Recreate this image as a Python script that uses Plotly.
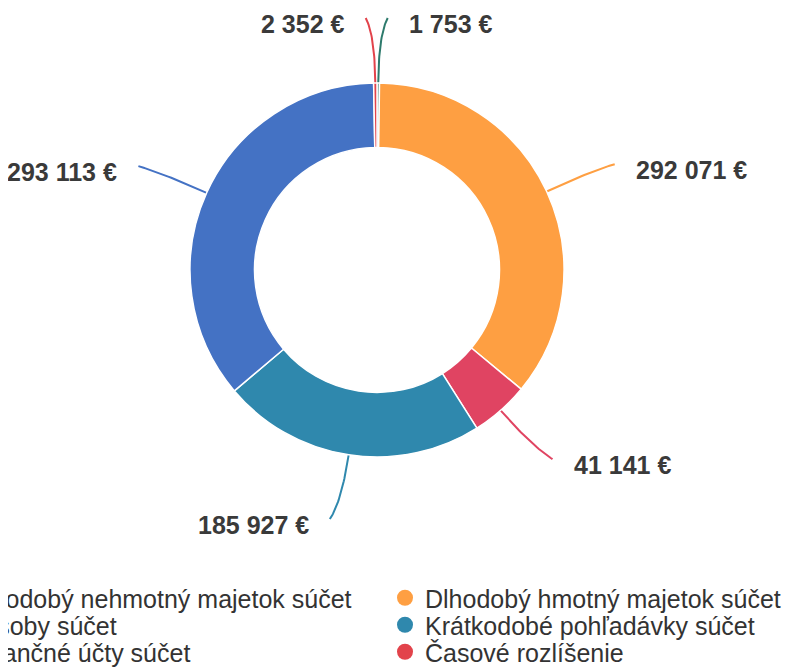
import numpy as np
import plotly.graph_objects as go

# ---- data ----
categories = [
    "Dlhodobý nehmotný majetok súčet",
    "Dlhodobý hmotný majetok súčet",
    "Zásoby súčet",
    "Krátkodobé pohľadávky súčet",
    "Finančné účty súčet",
    "Časové rozlíšenie",
]
values = [1753, 292071, 41141, 185927, 293113, 2352]
colors = ["#2d7a6c", "#fe9f42", "#e04462", "#2f88ad", "#4472c4", "#e2434b"]

# ---- layout constants (page pixels) ----
W, H = 794, 667
OFF = 8                      # default body margin of the html page
CX, CY, R = 377, 270, 187
HOLE = 0.655
R_CTRL, R_END, TAIL, GAP, TXT_DY = 235, 252, 9, 19, 6
LEG_COL_X = [-52, 405]       # symbol centres of the two legend columns
LEG_ROW_Y = [598, 625, 652]  # row centres


def px_x(p):
    return (p - OFF) / W


def px_y(p):
    return 1 - (p - OFF) / H


fig = go.Figure()

fig.add_trace(go.Pie(
    labels=categories, values=values, sort=False, direction="clockwise",
    rotation=0, hole=HOLE,
    marker=dict(colors=colors, line=dict(color="white", width=1.5)),
    textinfo="none", showlegend=False,
    domain=dict(x=[px_x(CX - R), px_x(CX + R)], y=[px_y(CY + R), px_y(CY - R)]),
))

vals = np.array(values, dtype=float)
total = vals.sum()
cum = np.cumsum(vals)
mid = 2 * np.pi * (cum - vals / 2) / total
t = np.linspace(0, 1, 30)

annotations = []
for i, th in enumerate(mid):
    ux, uy = np.sin(th), -np.cos(th)
    s = 1 if ux >= 0 else -1
    p0 = np.array([CX + R * ux, CY + R * uy])
    k = np.array([CX + R_CTRL * ux, CY + R_CTRL * uy])
    e = np.array([CX + R_END * ux + s * TAIL, CY + R_END * uy])
    bx = (1 - t) ** 2 * p0[0] + 2 * (1 - t) * t * k[0] + t ** 2 * e[0]
    by = (1 - t) ** 2 * p0[1] + 2 * (1 - t) * t * k[1] + t ** 2 * e[1]
    fig.add_trace(go.Scatter(x=bx, y=by, mode="lines", line=dict(color=colors[i], width=2),
                             showlegend=False, hoverinfo="skip"))
    label = f"{values[i]:,}".replace(",", " ") + " €"
    annotations.append(dict(
        x=e[0] + s * GAP, y=e[1] + TXT_DY, xref="x", yref="y", text=label, showarrow=False,
        xanchor="left" if s > 0 else "right", yanchor="middle",
        font=dict(family="Liberation Sans, Arial, sans-serif", size=25, color="#3a3a3a", weight="bold"),
    ))

legend_font = dict(family="Liberation Sans, Arial, sans-serif", size=25, color="#333333")
legends = {}
for i in range(len(categories)):
    col, row = i % 2, i // 2
    name = "legend" if i == 0 else f"legend{i + 1}"
    fig.add_trace(go.Scatter(x=[None], y=[None], mode="markers", name=categories[i],
                             marker=dict(symbol="circle", size=16, color=colors[i]),
                             legend=name, showlegend=True, hoverinfo="skip"))
    legends[name] = dict(x=px_x(LEG_COL_X[col] - 20), y=px_y(LEG_ROW_Y[row]),
                         xanchor="left", yanchor="middle", font=legend_font,
                         bgcolor="rgba(0,0,0,0)", orientation="v", borderwidth=0)

fig.update_layout(
    width=W, height=H,
    margin=dict(l=0, r=0, t=0, b=0, autoexpand=False),
    paper_bgcolor="white", plot_bgcolor="white",
    xaxis=dict(range=[OFF, W + OFF], visible=False, fixedrange=True),
    yaxis=dict(range=[H + OFF, OFF], visible=False, fixedrange=True),
    annotations=annotations,
    showlegend=True,
    **legends,
)

fig.write_html("out.html")
